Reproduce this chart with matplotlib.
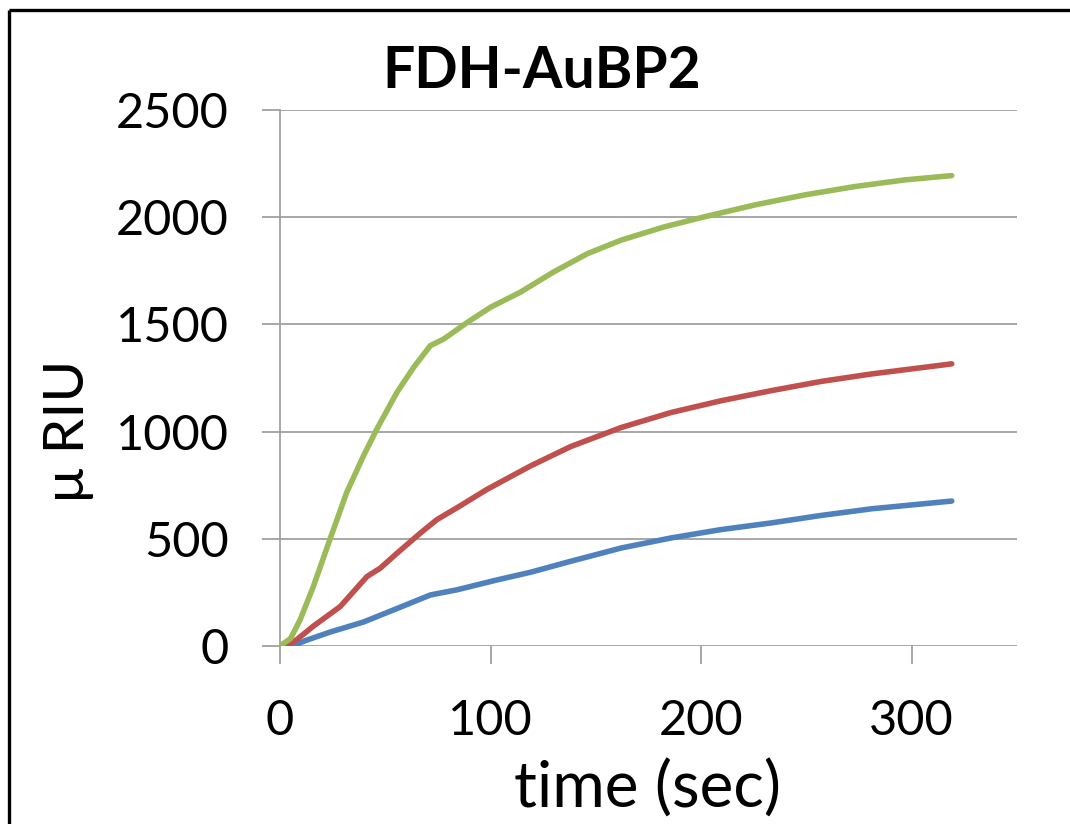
import matplotlib
matplotlib.use("Agg")
import matplotlib.pyplot as plt
from matplotlib.lines import Line2D

plt.rcParams['font.family'] = ['Lato', 'DejaVu Sans']

title = "FDH-AuBP2"
x_label = "time (sec)"
y_label = "\u03bc RIU"
x_ticks = [0, 100, 200, 300]
y_ticks = [0, 500, 1000, 1500, 2000, 2500]

green_t = [0, 5, 9.5, 15.9, 23.8, 31.7, 39.7, 46, 55.6, 63.5, 71.4, 77.8, 88.9,
           100, 114.3, 130, 146, 162, 182.5, 201.6, 225.4, 249.2, 273, 296.8, 319]
green_v = [0, 35, 121, 279, 500, 717, 888, 1012, 1184, 1300, 1401, 1432, 1509,
           1580, 1651, 1745, 1830, 1893, 1955, 2002, 2057, 2104, 2143, 2174, 2194]

red_t = [3, 8, 15.9, 28.6, 41.3, 47.6, 55.6, 66.7, 74.6, 84.1, 98.4, 119,
         138, 162, 185.7, 209.5, 233.3, 257, 281, 319]
red_v = [0, 30, 93, 184, 324, 363, 433, 527, 590, 645, 731, 840,
         930, 1019, 1089, 1144, 1191, 1234, 1269, 1316]

blue_t = [6, 12, 23.8, 39.7, 55.6, 71.4, 84, 103, 119, 138, 162, 185.7,
          209.5, 233.3, 257, 281, 319]
blue_v = [0, 25, 65, 112, 175, 238, 262, 308, 344, 395, 457, 504,
          543, 574, 609, 640, 676]

W, H = 1070, 824
fig = plt.figure(figsize=(W / 100, H / 100), dpi=100)
ax = fig.add_axes([280 / W, 1 - 646 / H, 737 / W, 536 / H])

grid_c = '#a0a0a0'
for t, v, c in [(blue_t, blue_v, '#4F81BD'), (red_t, red_v, '#C0504D'),
                (green_t, green_v, '#9BBB59')]:
    ax.plot(t, v, color=c, lw=4.0, solid_capstyle='round',
            solid_joinstyle='round', zorder=3)

ax.set_xlim(0, 350)
ax.set_ylim(0, 2500)
ax.set_xticks(x_ticks)
ax.set_yticks(y_ticks)
ax.yaxis.grid(True, color=grid_c, lw=1.3)
ax.set_axisbelow(True)
for s in ['top', 'right', 'bottom']:
    ax.spines[s].set_visible(False)
ax.spines['left'].set_color(grid_c)
ax.spines['left'].set_linewidth(1.3)
ax.tick_params(axis='both', colors=grid_c, width=1.3, length=13, labelcolor='black',
               labelsize=35)
ax.tick_params(axis='y', pad=24)
ax.tick_params(axis='x', pad=25)

fig.text(648 / W, 1 - 808 / H, x_label, fontsize=46, ha='center', va='baseline')
fig.text(68 / W, 1 - 431 / H, y_label, fontsize=41, ha='center', va='center',
         rotation=90)
fig.text(542 / W, 1 - 88 / H, title, fontsize=41, fontweight='bold',
         ha='center', va='baseline')

fig.add_artist(Line2D([9 / W, 1.0], [1 - 10 / H, 1 - 10 / H], transform=fig.transFigure,
                      color='black', lw=2.4, solid_capstyle='butt'))
fig.add_artist(Line2D([9 / W, 9 / W], [0.0, 1 - 10 / H], transform=fig.transFigure,
                      color='black', lw=2.4, solid_capstyle='butt'))

fig.savefig('out.png', dpi=100)
